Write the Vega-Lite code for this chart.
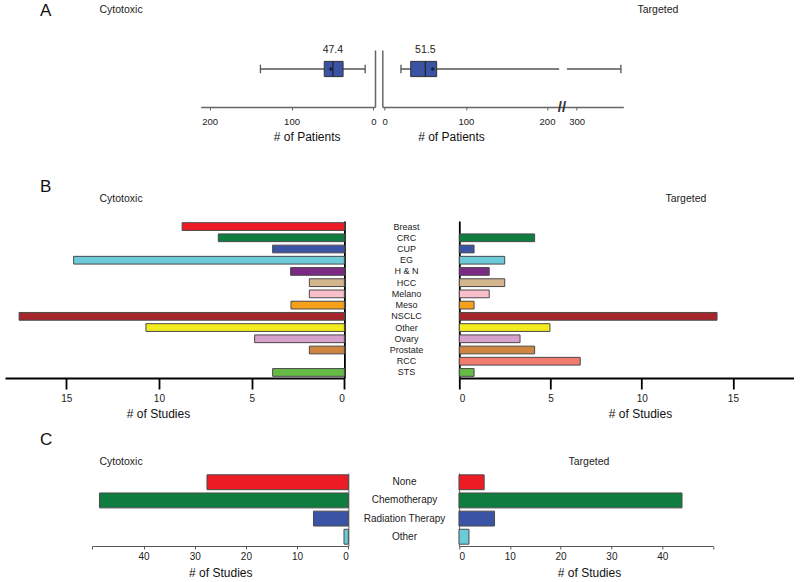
{
"$schema":"https://vega.github.io/schema/vega-lite/v6.json",
"padding":{"left":5,"right":0,"top":2,"bottom":0},
"autosize":{"type":"pad"},
"background":"white",
"config":{
 "font":"Liberation Sans",
 "view":{"stroke":null},
 "axis":{"domainColor":"#000","tickColor":"#000","labelColor":"#222","titleColor":"#111","labelFontSize":9.5,"titleFontSize":12,"titleFontWeight":"normal","grid":false,"labelFont":"Liberation Sans","titleFont":"Liberation Sans"},
 "axisY":{"titleAngle":0,"titleAlign":"left","titleBaseline":"middle","titleFontSize":10.5,"titleColor":"#222"},
 "title":{"font":"Liberation Sans","fontWeight":"normal","color":"#111","fontSize":17,"anchor":"start","frame":"group","baseline":"bottom"}
},
"bounds":"flush",
"columns":2,
"spacing":{"row":95,"column":7.3},
"resolve":{"scale":{"x":"independent","y":"independent","color":"independent"}},
"datasets":{
 "box":[
  {"group":"Cytotoxic","min":10,"q1":37,"median":49.5,"q3":60,"max":138,"mean":52,"label":"47.4"},
  {"group":"Targeted","min":20,"q1":32,"median":50,"q3":64,"max":355,"mean":59,"label":"51.5"}
 ],
 "whiskers":[
  {"group":"Cytotoxic","lo":10,"hi":138},
  {"group":"Targeted","lo":20,"hi":215},
  {"group":"Targeted","lo":287,"hi":355}
 ],
 "breaks":[{"group":"Targeted","at":223,"mark":"//"}],
 "sites":[
  {"group":"Cytotoxic","site":"Breast","n":8.75},
  {"group":"Cytotoxic","site":"CRC","n":6.8},
  {"group":"Cytotoxic","site":"CUP","n":3.87},
  {"group":"Cytotoxic","site":"EG","n":14.6},
  {"group":"Cytotoxic","site":"H & N","n":2.9},
  {"group":"Cytotoxic","site":"HCC","n":1.89},
  {"group":"Cytotoxic","site":"Melano","n":1.89},
  {"group":"Cytotoxic","site":"Meso","n":2.88},
  {"group":"Cytotoxic","site":"NSCLC","n":17.54},
  {"group":"Cytotoxic","site":"Other","n":10.7},
  {"group":"Cytotoxic","site":"Ovary","n":4.84},
  {"group":"Cytotoxic","site":"Prostate","n":1.89},
  {"group":"Cytotoxic","site":"STS","n":3.87},
  {"group":"Targeted","site":"CRC","n":4.13},
  {"group":"Targeted","site":"CUP","n":0.81},
  {"group":"Targeted","site":"EG","n":2.49},
  {"group":"Targeted","site":"H & N","n":1.64},
  {"group":"Targeted","site":"HCC","n":2.49},
  {"group":"Targeted","site":"Melano","n":1.64},
  {"group":"Targeted","site":"Meso","n":0.81},
  {"group":"Targeted","site":"NSCLC","n":14.13},
  {"group":"Targeted","site":"Other","n":4.97},
  {"group":"Targeted","site":"Ovary","n":3.33},
  {"group":"Targeted","site":"Prostate","n":4.13},
  {"group":"Targeted","site":"RCC","n":6.63},
  {"group":"Targeted","site":"STS","n":0.81}
 ],
 "prior":[
  {"group":"Cytotoxic","therapy":"None","n":27.6},
  {"group":"Cytotoxic","therapy":"Chemotherapy","n":48.6},
  {"group":"Cytotoxic","therapy":"Radiation Therapy","n":6.8},
  {"group":"Cytotoxic","therapy":"Other","n":0.84},
  {"group":"Targeted","therapy":"None","n":4.95},
  {"group":"Targeted","therapy":"Chemotherapy","n":43.9},
  {"group":"Targeted","therapy":"Radiation Therapy","n":7.0},
  {"group":"Targeted","therapy":"Other","n":1.96}
 ]
},
"concat":[
 {
  "width":370,"height":76,
  "title":{"text":"A","dx":35,"offset":-16},
  "data":{"name":"box"},
  "transform":[{"filter":"datum.group==='Cytotoxic'"}],
  "layer":[
   {"data":{"name":"whiskers"},"transform":[{"filter":"datum.group==='Cytotoxic'"}],
    "mark":{"type":"rule","color":"#555","strokeWidth":1.3},
    "encoding":{
     "x":{"field":"lo","type":"quantitative","scale":{"domain":[-2,211],"range":[370,195.7],"nice":false,"zero":false},
          "axis":{"values":[0,100,200],"domainColor":"#666","domainWidth":1.5,"tickSize":3,"tickColor":"#666","offset":-19,"labelPadding":6,"title":"# of Patients","titleX":301.7,"titlePadding":6}},
     "x2":{"field":"hi"},
     "y":{"datum":40,"type":"quantitative","scale":{"domain":[0,57],"range":[57,0]},
          "axis":{"orient":"right","labels":false,"ticks":false,"title":"Cytotoxic","titleX":-276,"titleY":-41,"domainColor":"#666","domainWidth":1.5}}
    }},
   {"mark":{"type":"rule","color":"#555","strokeWidth":1.3},
    "encoding":{"x":{"field":"min","type":"quantitative"},"y":{"datum":35.5,"type":"quantitative"},"y2":{"datum":44.5}}},
   {"mark":{"type":"rule","color":"#555","strokeWidth":1.3},
    "encoding":{"x":{"field":"max","type":"quantitative"},"y":{"datum":35.5,"type":"quantitative"},"y2":{"datum":44.5}}},
   {"mark":{"type":"rect","fill":"#3A53A4","stroke":"#333","strokeWidth":1},
    "encoding":{"x":{"field":"q1","type":"quantitative"},"x2":{"field":"q3"},"y":{"datum":32,"type":"quantitative"},"y2":{"datum":48}}},
   {"mark":{"type":"rule","color":"#222","strokeWidth":1.2},
    "encoding":{"x":{"field":"median","type":"quantitative"},"y":{"datum":32,"type":"quantitative"},"y2":{"datum":48}}},
   {"mark":{"type":"point","shape":"cross","filled":true,"color":"#111","size":16},
    "encoding":{"x":{"field":"mean","type":"quantitative"},"y":{"datum":40,"type":"quantitative"}}},
   {"mark":{"type":"text","fontSize":10.5,"color":"#222","baseline":"middle"},
    "encoding":{"x":{"field":"median","type":"quantitative"},"y":{"datum":60,"type":"quantitative"},"text":{"field":"label"}}}
  ]
 },
 {
  "width":411.7,"height":76,
  "data":{"name":"box"},
  "transform":[{"filter":"datum.group==='Targeted'"}],
  "layer":[
   {"data":{"name":"whiskers"},"transform":[{"filter":"datum.group==='Targeted'"}],
    "mark":{"type":"rule","color":"#555","strokeWidth":1.3},
    "encoding":{
     "x":{"field":"lo","type":"quantitative","scale":{"domain":[-3,218,288,358],"range":[0,179.3,184.7,241],"nice":false,"zero":false},
          "axis":{"values":[0,100,200,300],"domainColor":"#666","domainWidth":1.5,"tickSize":3,"tickColor":"#666","offset":-19,"labelPadding":6,"title":"# of Patients","titleX":68.7,"titlePadding":6}},
     "x2":{"field":"hi"},
     "y":{"datum":40,"type":"quantitative","scale":{"domain":[0,57],"range":[57,0]},
          "axis":{"orient":"left","labels":false,"ticks":false,"title":"Targeted","titleX":254.7,"titleY":-41,"domainColor":"#666","domainWidth":1.5}}
    }},
   {"mark":{"type":"rule","color":"#555","strokeWidth":1.3},
    "encoding":{"x":{"field":"min","type":"quantitative"},"y":{"datum":35.5,"type":"quantitative"},"y2":{"datum":44.5}}},
   {"mark":{"type":"rule","color":"#555","strokeWidth":1.3},
    "encoding":{"x":{"field":"max","type":"quantitative"},"y":{"datum":35.5,"type":"quantitative"},"y2":{"datum":44.5}}},
   {"mark":{"type":"rect","fill":"#3A53A4","stroke":"#333","strokeWidth":1},
    "encoding":{"x":{"field":"q1","type":"quantitative"},"x2":{"field":"q3"},"y":{"datum":32,"type":"quantitative"},"y2":{"datum":48}}},
   {"mark":{"type":"rule","color":"#222","strokeWidth":1.2},
    "encoding":{"x":{"field":"median","type":"quantitative"},"y":{"datum":32,"type":"quantitative"},"y2":{"datum":48}}},
   {"mark":{"type":"point","shape":"cross","filled":true,"color":"#111","size":16},
    "encoding":{"x":{"field":"mean","type":"quantitative"},"y":{"datum":40,"type":"quantitative"}}},
   {"mark":{"type":"text","fontSize":10.5,"color":"#222","baseline":"middle"},
    "encoding":{"x":{"field":"median","type":"quantitative"},"y":{"datum":60,"type":"quantitative"},"text":{"field":"label"}}},
   {"data":{"name":"breaks"},
    "mark":{"type":"text","fontSize":15,"fontWeight":"bold","color":"#333","baseline":"middle"},
    "encoding":{"x":{"field":"at","type":"quantitative"},"y":{"datum":0,"type":"quantitative"},"text":{"field":"mark"}}}
  ]
 },
 {
  "width":370,"height":157,
  "title":{"text":"B","dx":35,"offset":-3},
  "data":{"name":"sites"},
  "transform":[{"filter":"datum.group==='Cytotoxic'"}],
  "mark":{"type":"bar","stroke":"#4a4a4a","strokeWidth":1},
  "encoding":{
   "y":{"field":"site","type":"nominal","scale":{"domain":["Breast","CRC","CUP","EG","H & N","HCC","Melano","Meso","NSCLC","Other","Ovary","Prostate","RCC","STS"],"paddingInner":0.31,"paddingOuter":0.15},
        "axis":{"orient":"right","offset":-30.6,"ticks":false,"labelAlign":"center","labelPadding":61.6,"labelFontSize":9,"domainWidth":1.8,"title":"Cytotoxic","titleX":-245.4,"titleY":-23}},
   "x":{"field":"n","type":"quantitative","scale":{"domain":[0,18.3],"range":[339.4,0],"nice":false},
        "axis":{"values":[0,5,10,15],"tickSize":11,"tickWidth":1.8,"domainWidth":1.8,"labelPadding":4,"labelFontSize":10,"title":"# of Studies","titleX":153,"titlePadding":5}},
   "color":{"field":"site","type":"nominal","legend":null,
            "scale":{"domain":["Breast","CRC","CUP","EG","H & N","HCC","Melano","Meso","NSCLC","Other","Ovary","Prostate","RCC","STS"],
                     "range":["#ED1C24","#0E7D3F","#3A53A4","#6DCAD8","#7A2A84","#D3B58E","#F9BFCB","#F7A11B","#A5262B","#F2EB1D","#D6A1CB","#CF8440","#F27B70","#66BB46"]}}
  }
 },
 {
  "width":411.7,"height":157,
  "data":{"name":"sites"},
  "transform":[{"filter":"datum.group==='Targeted'"}],
  "mark":{"type":"bar","stroke":"#4a4a4a","strokeWidth":1},
  "encoding":{
   "y":{"field":"site","type":"nominal","scale":{"domain":["Breast","CRC","CUP","EG","H & N","HCC","Melano","Meso","NSCLC","Other","Ovary","Prostate","RCC","STS"],"paddingInner":0.31,"paddingOuter":0.15},
        "axis":{"orient":"left","offset":-77,"ticks":false,"labels":false,"domainWidth":1.8,"title":"Targeted","titleX":205.7,"titleY":-23}},
   "x":{"field":"n","type":"quantitative","scale":{"domain":[0,18.35],"range":[77,411.7],"nice":false},
        "axis":{"values":[0,5,10,15],"tickSize":11,"tickWidth":1.8,"domainWidth":1.8,"labelPadding":4,"labelFontSize":10,"title":"# of Studies","titleX":257.7,"titlePadding":5}},
   "color":{"field":"site","type":"nominal","legend":null,
            "scale":{"domain":["Breast","CRC","CUP","EG","H & N","HCC","Melano","Meso","NSCLC","Other","Ovary","Prostate","RCC","STS"],
                     "range":["#ED1C24","#0E7D3F","#3A53A4","#6DCAD8","#7A2A84","#D3B58E","#F9BFCB","#F7A11B","#A5262B","#F2EB1D","#D6A1CB","#CF8440","#F27B70","#66BB46"]}}
  }
 },
 {
  "width":370,"height":73,
  "title":{"text":"C","dx":35,"offset":7},
  "data":{"name":"prior"},
  "transform":[{"filter":"datum.group==='Cytotoxic'"}],
  "mark":{"type":"bar","stroke":"#4a4a4a","strokeWidth":1},
  "encoding":{
   "y":{"field":"therapy","type":"nominal","scale":{"domain":["None","Chemotherapy","Radiation Therapy","Other"],"paddingInner":0.18,"paddingOuter":0.1},
        "axis":{"orient":"right","offset":-26.7,"ticks":false,"labelAlign":"center","labelPadding":55.7,"labelFontSize":10,"domainColor":"#777","domainWidth":1.2,"title":"Cytotoxic","titleX":-249.3,"titleY":-12}},
   "x":{"field":"n","type":"quantitative","scale":{"domain":[0,50],"range":[343.3,87.3],"nice":false},
        "axis":{"values":[0,10,20,30,40,50],"labelExpr":"datum.value==50?'':datum.label","tickSize":3,"domainColor":"#555","domainWidth":1.2,"tickColor":"#555","labelPadding":2,"labelFontSize":10,"title":"# of Studies","titleX":215.3,"titlePadding":6}},
   "color":{"field":"therapy","type":"nominal","legend":null,
            "scale":{"domain":["None","Chemotherapy","Radiation Therapy","Other"],"range":["#ED1C24","#0E7D3F","#3A53A4","#6DCAD8"]}}
  }
 },
 {
  "width":411.7,"height":73,
  "data":{"name":"prior"},
  "transform":[{"filter":"datum.group==='Targeted'"}],
  "mark":{"type":"bar","stroke":"#4a4a4a","strokeWidth":1},
  "encoding":{
   "y":{"field":"therapy","type":"nominal","scale":{"domain":["None","Chemotherapy","Radiation Therapy","Other"],"paddingInner":0.18,"paddingOuter":0.1},
        "axis":{"orient":"left","offset":-76.7,"ticks":false,"labels":false,"domainColor":"#777","domainWidth":1.2,"title":"Targeted","titleX":109,"titleY":-12}},
   "x":{"field":"n","type":"quantitative","scale":{"domain":[0,50],"range":[76.7,330.7],"nice":false},
        "axis":{"values":[0,10,20,30,40,50],"labelExpr":"datum.value==50?'':datum.label","tickSize":3,"domainColor":"#555","domainWidth":1.2,"tickColor":"#555","labelPadding":2,"labelFontSize":10,"title":"# of Studies","titleX":206.7,"titlePadding":6}},
   "color":{"field":"therapy","type":"nominal","legend":null,
            "scale":{"domain":["None","Chemotherapy","Radiation Therapy","Other"],"range":["#ED1C24","#0E7D3F","#3A53A4","#6DCAD8"]}}
  }
 }
]
}
